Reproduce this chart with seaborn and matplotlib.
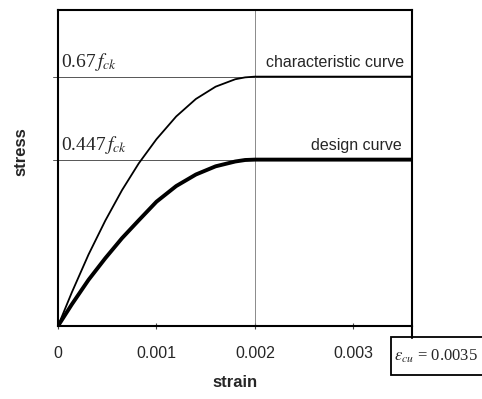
import matplotlib
matplotlib.use("Agg")
import matplotlib.pyplot as plt
from matplotlib.lines import Line2D
from matplotlib.patches import Rectangle
import seaborn as sns
import pandas as pd

# ---- data ----
strain_pts = [0.0, 0.00014, 0.00031, 0.00048, 0.00065, 0.00082, 0.001, 0.0012,
              0.0014, 0.0016, 0.0018, 0.0019, 0.002, 0.0036]
char_stress = [0.0, 0.090, 0.192, 0.283, 0.365, 0.437, 0.502, 0.563,
               0.610, 0.643, 0.663, 0.668, 0.67, 0.67]
design_stress = [0.0, 0.058, 0.124, 0.182, 0.236, 0.284, 0.334, 0.376,
                 0.407, 0.429, 0.442, 0.446, 0.447, 0.447]
x_ticks = [0, 0.001, 0.002, 0.003]
x_tick_labels = ["0", "0.001", "0.002", "0.003"]
level_char = 0.67
level_design = 0.447
peak_strain = 0.002
ultimate_label = r"$\varepsilon_{cu}$ = 0.0035"

sns.set_theme(style="white")
plt.rcParams["font.family"] = ["Liberation Sans", "DejaVu Sans"]
plt.rcParams["mathtext.fontset"] = "stix"

df_c = pd.DataFrame({"strain": strain_pts, "stress": char_stress})
df_d = pd.DataFrame({"strain": strain_pts, "stress": design_stress})

fig = plt.figure(figsize=(4.82, 3.99), dpi=100)
ax = fig.add_axes([58 / 482, 73 / 399, 354 / 482, 316 / 399])

# reference lines
ax.axhline(level_char, xmin=-0.015, color="#555555", lw=0.7, zorder=1, clip_on=False)
ax.axhline(level_design, xmin=-0.015, color="#555555", lw=0.7, zorder=1, clip_on=False)
ax.axvline(peak_strain, color="#777777", lw=0.6, zorder=1)

sns.lineplot(data=df_c, x="strain", y="stress", ax=ax, color="black", lw=1.3,
             estimator=None, sort=False, zorder=3)
sns.lineplot(data=df_d, x="strain", y="stress", ax=ax, color="black", lw=2.8,
             estimator=None, sort=False, zorder=3)

ax.set_xlim(0, 0.003594)
ax.set_ylim(0, 0.849)
ax.set_xticks(x_ticks)
ax.set_xticklabels(x_tick_labels, fontsize=11.5)
ax.set_yticks([])
ax.tick_params(axis="x", direction="inout", length=5, width=0.8, color="#444444",
               bottom=True, pad=12)
for s in ax.spines.values():
    s.set_color("black")
    s.set_linewidth(1.5)

ax.set_xlabel("strain", fontsize=12, fontweight="bold")
ax.xaxis.set_label_coords(0.5, -(375 - 326) / 316, transform=ax.transAxes)
ax.set_ylabel("stress", fontsize=12, fontweight="bold")
ax.yaxis.set_label_coords(-(58 - 28) / 354, (326 - 152) / 316, transform=ax.transAxes)

serif = ["Liberation Serif", "DejaVu Serif"]
ax.text(0.00003, level_char + 0.010, r"0.67$\,f_{ck}$", fontsize=14, family=serif,
        va="bottom", ha="left")
ax.text(0.00003, level_design + 0.010, r"0.447$\,f_{ck}$", fontsize=14, family=serif,
        va="bottom", ha="left")
ax.text(0.00351, level_char + 0.018, "characteristic curve", fontsize=11.5,
        va="bottom", ha="right")
ax.text(0.00349, level_design + 0.018, "design curve", fontsize=11.5,
        va="bottom", ha="right")

# right spine continues down to the label box
fig.add_artist(Line2D([412 / 482, 412 / 482], [1 - 326 / 399, 1 - 338 / 399],
                      transform=fig.transFigure, color="black", lw=1.5))

# label box
fig.add_artist(Rectangle((391 / 482, 1 - 375 / 399), 95 / 482, 38 / 399,
                         transform=fig.transFigure, fc="white", ec="black", lw=1.3))
fig.text(394 / 482, 1 - 356 / 399, ultimate_label, fontsize=12, family=serif,
         ha="left", va="center")

fig.savefig("out.png", dpi=100)
